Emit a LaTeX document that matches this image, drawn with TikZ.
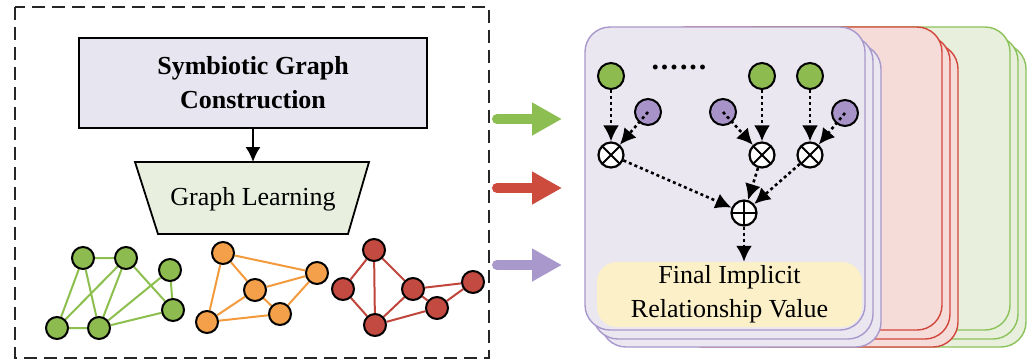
\documentclass[tikz,border=0pt]{standalone}
\usepackage{fontspec}
\setmainfont{Liberation Serif}
\usetikzlibrary{arrows.meta,backgrounds}
\definecolor{gnfill}{HTML}{8DBB4F}
\definecolor{gline}{HTML}{8CBF4E}
\definecolor{onfill}{HTML}{F4A04A}
\definecolor{oline}{HTML}{F39A3C}
\definecolor{rnfill}{HTML}{C24A40}
\definecolor{rline}{HTML}{C0463C}
\definecolor{pnfill}{HTML}{A893C8}
\definecolor{boxP}{HTML}{E7E5EF}
\definecolor{boxG}{HTML}{E9EFDF}
\definecolor{cardPf}{HTML}{EAE7F1}
\definecolor{cardPd}{HTML}{A898CC}
\definecolor{cardRf}{HTML}{F5DCD8}
\definecolor{cardRd}{HTML}{D2463C}
\definecolor{cardGf}{HTML}{E8F0DD}
\definecolor{cardGd}{HTML}{8CC25A}
\definecolor{yellowbox}{HTML}{FBF0C8}
\definecolor{fatG}{HTML}{8DBE52}
\definecolor{fatR}{HTML}{CC4B3C}
\definecolor{fatP}{HTML}{A898CC}
\begin{document}
\begin{tikzpicture}[x=1pt,y=-1pt,
  bigfont/.style={font=\fontsize{26pt}{34pt}\selectfont},
  gnode/.style={circle,draw=black,line width=2pt,minimum size=22pt,inner sep=0pt,fill=#1},
  gedge/.style={draw=#1,line width=2pt},
  card/.style 2 args={draw=#1,fill=#2,line width=1.4pt,rounded corners=25pt},
  bignode/.style={circle,draw=black,line width=2pt,minimum size=26pt,inner sep=0pt,fill=#1},
  opnode/.style={circle,draw=black,line width=2.2pt,minimum size=25pt,inner sep=0pt,fill=white},
  dotarrow/.style={line width=2.6pt,dash pattern=on 3pt off 3pt,-{Latex[length=16pt,width=16pt]}},
  fatarrow/.style={line width=10pt,line cap=round,draw=#1,-{Triangle[length=30pt,width=31pt,fill=#1]}}
]
\useasboundingbox (0,0) rectangle (1034,360);
\begin{pgfonlayer}{background}
\fill[white] (0,0) rectangle (1034,360);
\end{pgfonlayer}

% left dashed frame
\draw[line width=2pt,draw=black!85,dash pattern=on 13pt off 7pt] (15,7) rectangle (489,358);

% Symbiotic Graph Construction box
\node[draw=black,line width=1.8pt,fill=boxP,minimum width=348pt,minimum height=90pt,bigfont,align=center] (sgc) at (253,83) {\textbf{Symbiotic Graph}\\\textbf{Construction}};

% Graph Learning trapezoid
\draw[line width=1.8pt,fill=boxG] (135,162) -- (369,162) -- (348,234) -- (158,234) -- cycle;
\node[bigfont] (gl) at (253,199) {Graph Learning};
\coordinate (gltop) at (253,162);
\draw[line width=1.8pt,-{Latex[length=15pt,width=15pt]}] (sgc.south) -- (gltop);

% green graph
\node[gnode=gnfill] (g1) at (83,258) {};
\node[gnode=gnfill] (g2) at (126,258) {};
\node[gnode=gnfill] (g3) at (170,270) {};
\node[gnode=gnfill] (g4) at (173,310) {};
\node[gnode=gnfill] (g5) at (57,328) {};
\node[gnode=gnfill] (g6) at (99,328) {};
% orange graph
\node[gnode=onfill] (o1) at (223,253) {};
\node[gnode=onfill] (o2) at (317,273) {};
\node[gnode=onfill] (o3) at (255,290) {};
\node[gnode=onfill] (o4) at (280,314) {};
\node[gnode=onfill] (o5) at (207,322) {};
% red graph
\node[gnode=rnfill] (r1) at (374,250) {};
\node[gnode=rnfill] (r2) at (343,289) {};
\node[gnode=rnfill] (r3) at (413,289) {};
\node[gnode=rnfill] (r4) at (473,282) {};
\node[gnode=rnfill] (r5) at (437,308) {};
\node[gnode=rnfill] (r6) at (375,325) {};
\begin{pgfonlayer}{background}
\draw[gedge=gline] (g1)--(g2) (g1)--(g5) (g1)--(g6) (g2)--(g5) (g2)--(g6) (g2)--(g4) (g3)--(g6) (g3)--(g4) (g6)--(g4) (g5)--(g6);
\draw[gedge=oline] (o1)--(o2) (o1)--(o3) (o1)--(o5) (o3)--(o2) (o3)--(o4) (o3)--(o5) (o2)--(o4) (o5)--(o4);
\draw[gedge=rline] (r1)--(r2) (r1)--(r6) (r1)--(r3) (r2)--(r6) (r3)--(r6) (r3)--(r4) (r3)--(r5) (r5)--(r4) (r6)--(r5);
\end{pgfonlayer}

% fat arrows
\coordinate (aG0) at (497,119); \coordinate (aG1) at (562,119);
\coordinate (aR0) at (497,188); \coordinate (aR1) at (562,188);
\coordinate (aP0) at (497,265); \coordinate (aP1) at (562,265);
\draw[fatarrow=fatG] (aG0) -- (aG1);
\draw[fatarrow=fatR] (aR0) -- (aR1);
\draw[fatarrow=fatP] (aP0) -- (aP1);

% card stacks (green, red, purple)
\draw[card={cardGd}{cardGf}] (746,44) rectangle (1026,347);
\draw[card={cardGd}{cardGf}] (738,36) rectangle (1018,339);
\draw[card={cardGd}{cardGf}] (730,27) rectangle (1010,330);
\draw[card={cardRd}{cardRf}] (678,44) rectangle (958,347);
\draw[card={cardRd}{cardRf}] (670,36) rectangle (950,339);
\draw[card={cardRd}{cardRf}] (662,27) rectangle (942,330);
\draw[card={cardPd}{cardPf}] (601,44) rectangle (881,347);
\draw[card={cardPd}{cardPf}] (593,36) rectangle (873,339);
\draw[card={cardPd}{cardPf}] (585,27) rectangle (865,330);

% final box
\node[fill=yellowbox,rounded corners=20pt,minimum width=265pt,minimum height=65pt,bigfont,align=center,inner sep=0pt] (fin) at (729.5,294.5) {Final Implicit\\Relationship Value};

% inner nodes
\node[bignode=gnfill] (n1) at (611,76) {};
\node[bignode=gnfill] (n2) at (762,76) {};
\node[bignode=gnfill] (n3) at (810,76) {};
\node[bignode=pnfill] (p1) at (648,112) {};
\node[bignode=pnfill] (p2) at (723,112) {};
\node[bignode=pnfill] (p3) at (845,113) {};
\node[font=\fontsize{30pt}{30pt}\selectfont\bfseries] (dots) at (679,67) {.\kern2pt.\kern2pt.\kern2pt.\kern2pt.\kern2pt.};
\foreach \n/\x in {x1/611,x2/762,x3/810}{
  \node[opnode,path picture={\draw[line width=2pt] (path picture bounding box.north east) -- (path picture bounding box.south west) (path picture bounding box.north west) -- (path picture bounding box.south east);}] (\n) at (\x,155) {};
}
\node[opnode,path picture={\draw[line width=2pt] (path picture bounding box.north) -- (path picture bounding box.south) (path picture bounding box.west) -- (path picture bounding box.east);}] (plus) at (744,213) {};

% dotted arrows
\draw[dotarrow] (n1) -- (x1);
\draw[dotarrow] (n2) -- (x2);
\draw[dotarrow] (n3) -- (x3);
\draw[dotarrow] (p1.center) -- (x1);
\draw[dotarrow] (p2.center) -- (x2);
\draw[dotarrow] (p3.center) -- (x3);
\draw[dotarrow] (x1) -- (plus);
\draw[dotarrow] (x2) -- (plus);
\draw[dotarrow] (x3) -- (plus);
\draw[dotarrow] (plus) -- (plus |- fin.north);
\end{tikzpicture}
\end{document}
